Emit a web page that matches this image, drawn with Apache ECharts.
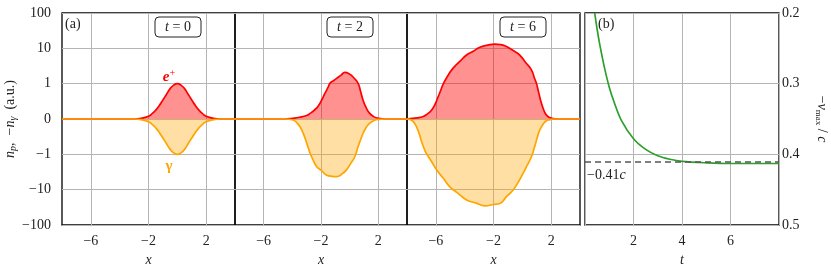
<!DOCTYPE html>
<html>
<head>
<meta charset="utf-8">
<script src="https://cdn.jsdelivr.net/npm/echarts@6/dist/echarts.min.js"></script>
<style>html,body{margin:0;padding:0;background:#fff}#c{width:831px;height:265px}</style>
</head>
<body>
<div id="c"></div>
<script>
const yTickValues = [-100, -10, -1, 0, 1, 10, 100];
const yTickLabels = ['\u2212100', '\u221210', '\u22121', '0', '1', '10', '100'];
const xTickValues = [-6, -2, 2];
const xTickLabels = ['\u22126', '\u22122', '2'];
const panelTitles = ['t = 0', 't = 2', 't = 6'];

const x_t0 = [-8, -3, -2.5, -2, -1.75, -1.5, -1.25, -1, -0.75, -0.5, -0.25, 0, 0.25, 0.5, 0.75, 1, 1.25, 1.5, 1.75, 2, 2.5, 3, 4];
const ep_t0 = [0, 0, 0.02, 0.08, 0.15, 0.25, 0.38, 0.54, 0.70, 0.86, 0.96, 1.0, 0.96, 0.86, 0.70, 0.54, 0.38, 0.25, 0.15, 0.08, 0.02, 0, 0];
const gm_t0 = [0, 0, -0.02, -0.08, -0.15, -0.25, -0.38, -0.54, -0.70, -0.86, -0.96, -1.0, -0.96, -0.86, -0.70, -0.54, -0.38, -0.25, -0.15, -0.08, -0.02, 0, 0];

const x_ep_t2 = [-8, -4.5, -4, -3.5, -3, -2.76, -2.5, -2.19, -1.9, -1.72, -1.5, -1.38, -1.1, -0.91, -0.6, -0.34, 0, 0.3, 0.59, 0.75, 0.93, 1.15, 1.4, 1.7, 2, 2.5, 4];
const ep_t2 = [0, 0, 0.02, 0.05, 0.1, 0.16, 0.24, 0.37, 0.58, 0.73, 0.9, 1.02, 1.23, 1.41, 1.74, 2.09, 1.86, 1.45, 1.02, 0.8, 0.54, 0.32, 0.16, 0.06, 0.02, 0, 0];
const x_gm_t2 = [-8, -4.5, -4, -3.7, -3.46, -3.2, -2.99, -2.76, -2.55, -2.3, -2.0, -1.6, -1.2, -0.91, -0.5, -0.22, 0.1, 0.36, 0.59, 0.75, 0.93, 1.15, 1.4, 1.7, 2, 2.5, 4];
const gm_t2 = [0, 0, -0.02, -0.1, -0.22, -0.45, -0.69, -0.97, -1.45, -2.24, -2.8, -3.9, -4.2, -4.27, -3.5, -2.75, -1.74, -1.17, -0.78, -0.6, -0.41, -0.24, -0.12, -0.04, -0.01, 0, 0];

const x_ep_t6 = [-8, -7.8, -7.3, -6.88, -6.6, -6.3, -6.05, -5.84, -5.65, -5.5, -5.2, -4.8, -4.3, -3.87, -3.4, -2.95, -2.4, -1.91, -1.5, -1.1, -0.6, -0.18, 0.2, 0.63, 0.85, 0.98, 1.15, 1.33, 1.5, 1.67, 1.9, 2.13, 2.5, 4];
const ep_t6 = [0, 0.01, 0.03, 0.07, 0.14, 0.25, 0.42, 0.63, 0.82, 0.98, 1.6, 2.75, 4.4, 6.46, 8.3, 10.7, 12.3, 13.2, 12.8, 11.2, 8.5, 6.46, 4.1, 2.45, 1.4, 1.02, 0.72, 0.44, 0.24, 0.11, 0.04, 0.01, 0, 0];
const x_gm_t6 = [-8, -7.8, -7.55, -7.34, -7.15, -6.99, -6.8, -6.65, -6.3, -5.95, -5.5, -5.03, -4.5, -3.87, -3.2, -2.6, -2.0, -1.56, -1.1, -0.64, -0.3, 0.05, 0.35, 0.63, 0.86, 1.05, 1.21, 1.45, 1.67, 1.9, 2.13, 4];
const gm_t6 = [0, -0.01, -0.08, -0.22, -0.42, -0.64, -0.85, -0.98, -1.6, -2.75, -4.7, -8.3, -12.3, -19.5, -24, -28.8, -26.3, -24.5, -15.8, -10.2, -6.3, -3.47, -2.0, -1.17, -0.78, -0.5, -0.31, -0.14, -0.05, -0.02, 0, 0];

const t_b = [0.4, 0.5, 0.6, 0.8, 1.0, 1.2, 1.5, 2, 2.5, 3, 3.5, 4, 5, 6, 7, 8];
const v_b = [0.2, 0.223, 0.243, 0.277, 0.305, 0.326, 0.352, 0.378, 0.393, 0.402, 0.407, 0.41, 0.412, 0.413, 0.413, 0.413];
const vAsym = 0.413;
const vAsymLabel = '\u22120.41';

// ---- symlog transform (linthresh 1) ----
function sym(v) { const a = Math.abs(v); const t = a <= 1 ? a : 1 + Math.log10(a); return v < 0 ? -t : t; }
function pairs(xs, ys) { return xs.map((x, i) => [x, sym(ys[i])]); }

const FONT = '"Liberation Serif", "DejaVu Serif", serif';
const GRID_C = '#b5b5b5';
const RED = '#ff0000', ORANGE = '#ffa500', GREEN = '#2ca02c';

const grids = [
  { left: 62, top: 13, width: 173, height: 212 },
  { left: 235, top: 13, width: 172, height: 212 },
  { left: 407, top: 13, width: 173, height: 212 },
  { left: 585, top: 13, width: 194, height: 212 }
].map(g => Object.assign({ show: true, borderColor: '#000', borderWidth: 1.3, backgroundColor: 'transparent',
  containLabel: false, outerBoundsMode: 'none' }, g));

const xAxis = [], yAxis = [], series = [];
const panelData = [
  [pairs(x_t0, ep_t0), pairs(x_t0, gm_t0)],
  [pairs(x_ep_t2, ep_t2), pairs(x_gm_t2, gm_t2)],
  [pairs(x_ep_t6, ep_t6), pairs(x_gm_t6, gm_t6)]
];
for (let i = 0; i < 3; i++) {
  xAxis.push({
    gridIndex: i, type: 'value', min: -8, max: 4,
    name: 'x', nameLocation: 'middle', nameGap: 24,
    nameTextStyle: { fontFamily: FONT, fontStyle: 'italic', fontSize: 14, color: '#222' },
    axisLine: { show: false }, axisTick: { show: false }, splitLine: { show: false },
    axisLabel: { customValues: xTickValues, fontFamily: FONT, fontSize: 14, color: '#222', margin: 9,
      formatter: v => xTickLabels[xTickValues.indexOf(Math.round(v))] ?? '' }
  });
  yAxis.push({
    gridIndex: i, type: 'value', min: -3, max: 3, interval: 1,
    name: i === 0 ? '{i|n}{s|p}{r|,  \u2212}{i|n}{s|\u03b3}{r|  (a.u.)}' : '',
    nameLocation: 'middle', nameGap: 40, nameRotate: 90,
    nameTextStyle: { fontFamily: FONT, fontSize: 14, color: '#222',
      rich: { i: { fontFamily: FONT, fontStyle: 'italic', fontSize: 14, color: '#222' },
              s: { fontFamily: FONT, fontStyle: 'italic', fontSize: 10, color: '#222', padding: [6, 0, 0, 0] },
              r: { fontFamily: FONT, fontSize: 14, color: '#222' } } },
    axisLine: { show: false }, axisTick: { show: false },
    splitLine: { show: true, lineStyle: { color: GRID_C, width: 1 } },
    axisLabel: { show: i === 0, fontFamily: FONT, fontSize: 14, color: '#222', margin: 11,
      formatter: v => yTickLabels[Math.round(v) + 3] }
  });
  // vertical grid lines at the x tick values
  series.push({
    type: 'line', xAxisIndex: i, yAxisIndex: i, data: [[-8, 0]], showSymbol: false, z: 1,
    lineStyle: { width: 0 }, silent: true,
    markLine: { silent: true, symbol: 'none', label: { show: false }, z: 1,
      lineStyle: { color: GRID_C, width: 1, type: 'solid', opacity: 1 },
      data: xTickValues.map(v => ({ xAxis: v })) }
  });
  series.push({
    type: 'line', xAxisIndex: i, yAxisIndex: i, data: panelData[i][0], smooth: 0.5,
    showSymbol: false, z: 3, lineStyle: { color: RED, width: 1.7 },
    areaStyle: { color: RED, opacity: 0.43, origin: 0 }
  });
  series.push({
    type: 'line', xAxisIndex: i, yAxisIndex: i, data: panelData[i][1], smooth: 0.5,
    showSymbol: false, z: 4, lineStyle: { color: ORANGE, width: 1.7 },
    areaStyle: { color: ORANGE, opacity: 0.36, origin: 0 }
  });
}
// panel (b)
xAxis.push({
  gridIndex: 3, type: 'value', min: 0, max: 8, interval: 2,
  name: 't', nameLocation: 'middle', nameGap: 24,
  nameTextStyle: { fontFamily: FONT, fontStyle: 'italic', fontSize: 14, color: '#222' },
  axisLine: { show: false }, axisTick: { show: false },
  splitLine: { show: true, lineStyle: { color: GRID_C, width: 1 } },
  axisLabel: { showMinLabel: false, showMaxLabel: false, fontFamily: FONT, fontSize: 14, color: '#222', margin: 9 }
});
yAxis.push({
  gridIndex: 3, type: 'value', min: 0.2, max: 0.5, interval: 0.1, inverse: true, position: 'right',
  name: '{r|\u2212}{i|v}{s|max}{r| / }{i|c}', nameLocation: 'middle', nameGap: 35, nameRotate: -90,
  nameTextStyle: { fontFamily: FONT, fontSize: 14, color: '#222',
    rich: { i: { fontFamily: FONT, fontStyle: 'italic', fontSize: 14, color: '#222' },
            s: { fontFamily: FONT, fontSize: 9, color: '#222', padding: [7, 0, 0, 0] },
            r: { fontFamily: FONT, fontSize: 14, color: '#222' } } },
  axisLine: { show: false }, axisTick: { show: false },
  splitLine: { show: true, lineStyle: { color: GRID_C, width: 1 } },
  axisLabel: { fontFamily: FONT, fontSize: 14, color: '#222', margin: 3,
    formatter: v => v.toFixed(1) }
});
series.push({
  type: 'line', xAxisIndex: 3, yAxisIndex: 3, data: t_b.map((t, i) => [t, v_b[i]]), smooth: 0.3,
  showSymbol: false, z: 3, lineStyle: { color: GREEN, width: 1.7 }, clip: true,
  markLine: { silent: true, symbol: 'none', label: { show: false },
    lineStyle: { color: '#555', width: 1.6, type: [6, 4] },
    data: [{ yAxis: vAsym }] }
});

const txt = (x, y, text, extra) => Object.assign({ type: 'text', x, y, z: 100,
  style: Object.assign({ text, fontFamily: FONT, fontSize: 14, fill: '#222' }, extra || {}) });
const graphic = [
  txt(65, 17, '(a)'),
  txt(598, 17, '(b)'),
  txt(587, 168, '{r|' + vAsymLabel + '}{i|c}', { rich: { r: { fontFamily: FONT, fontSize: 14, fill: '#222' }, i: { fontFamily: FONT, fontStyle: 'italic', fontSize: 14, fill: '#222' } } }),
  txt(169, 77, '{e|e}{p|+}', { fill: RED, align: 'center', verticalAlign: 'middle',
    rich: { e: { fontFamily: FONT, fontStyle: 'italic', fontWeight: 'bold', fontSize: 15, fill: RED },
            p: { fontFamily: FONT, fontSize: 10, fill: RED, padding: [0, 0, 8, 0] } } }),
  txt(169, 166, '\u03b3', { fill: ORANGE, fontWeight: 'bold', fontSize: 15, align: 'center', verticalAlign: 'middle' })
];
const boxCenters = [178, 350, 523];
panelTitles.forEach((t, i) => {
  const parts = t.split(' = ');
  graphic.push({ type: 'rect', z: 100, shape: { x: boxCenters[i] - 23, y: 17, width: 46, height: 20, r: 4 },
    style: { fill: '#fff', stroke: '#222', lineWidth: 1 } });
  graphic.push(txt(boxCenters[i], 27, '{i|' + parts[0] + '}{r| = ' + parts[1] + '}', { align: 'center', verticalAlign: 'middle',
    rich: { i: { fontFamily: FONT, fontStyle: 'italic', fontSize: 14, fill: '#222' }, r: { fontFamily: FONT, fontSize: 14, fill: '#222' } } }));
});

const chart = echarts.init(document.getElementById('c'), null, { renderer: 'canvas' });
chart.setOption({ animation: false, backgroundColor: '#fff', grid: grids, xAxis, yAxis, series, graphic });
</script>
</body>
</html>
